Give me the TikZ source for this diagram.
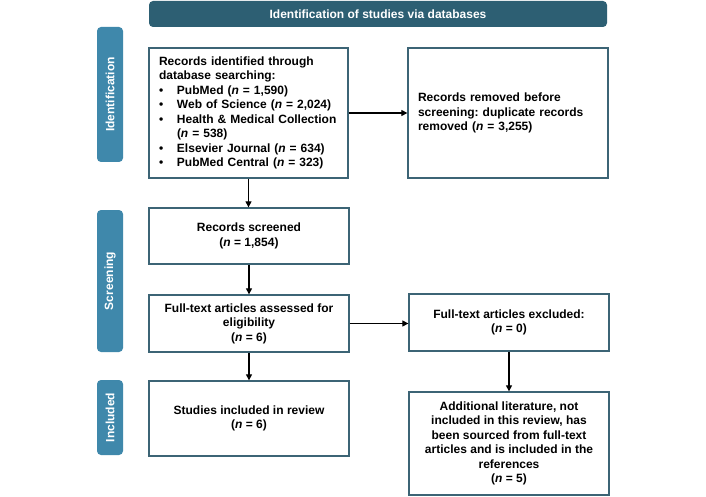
\documentclass[tikz,border=0pt]{standalone}
\usepackage{fontspec}
\setmainfont{Liberation Sans}
\usetikzlibrary{arrows.meta}
\frenchspacing
\definecolor{bannerc}{HTML}{2D5F73}
\definecolor{barc}{HTML}{3F88AB}
\definecolor{edgec}{HTML}{3C6475}
\tikzset{
  box/.style={draw=edgec, line width=1.3pt, fill=white, rectangle, inner sep=0pt,
    font=\fontsize{12}{14.5}\selectfont\bfseries, text=black},
  cbox/.style={box, align=center},
  lbox/.style={box, align=left},
  bar/.style={fill=barc, rounded corners=4pt, text=white, inner sep=0pt,
    font=\fontsize{12}{14.5}\selectfont\bfseries, rotate=90},
  banner/.style={fill=bannerc, rounded corners=4pt, text=white, inner sep=0pt,
    font=\fontsize{12}{14.5}\selectfont\bfseries},
  arr/.style={-{Triangle[length=6pt,width=6pt]}, line width=1.1pt, black}
}
\newcommand{\bul}{\makebox[18pt][l]{\textbullet}}
\begin{document}
\begin{tikzpicture}[x=1pt,y=-1pt]
\useasboundingbox[fill=white] (0,0) rectangle (706,497);

\node[banner, minimum width=458pt, minimum height=26pt] (ban) at (378,14) {Identification of studies via databases};

\node[bar, minimum width=135pt, minimum height=26pt] (bid) at (110,94.5) {Identification};
\node[bar, minimum width=142pt, minimum height=26pt] (bsc) at (110,281) {Screening};
\node[bar, minimum width=75pt, minimum height=26pt] (bin) at (110,417.5) {Included};

\node[lbox, minimum width=199pt, minimum height=130pt, text width=179pt] (b1) at (248.5,113) {%
Records identified through\\
database searching:\\
\bul PubMed (\textit{n} = 1,590)\\
\bul Web of Science (\textit{n} = 2,024)\\
\bul Health \& Medical Collection\\
\hspace*{18pt}(\textit{n} = 538)\\
\bul Elsevier Journal (\textit{n} = 634)\\
\bul PubMed Central (\textit{n} = 323)};

\node[lbox, minimum width=200pt, minimum height=130pt, text width=180pt] (b2) at (508,113) {%
Records removed before\\
screening: duplicate records\\
removed (\textit{n} = 3,255)};

\node[cbox, minimum width=200pt, minimum height=56pt] (scr) at (249,236) {Records screened\\(\textit{n} = 1,854)};

\node[cbox, minimum width=200pt, minimum height=57pt] (ass) at (249,323.5) {Full-text articles assessed for\\eligibility\\(\textit{n} = 6)};

\node[cbox, minimum width=200pt, minimum height=75pt] (inc) at (249,418.5) {Studies included in review\\(\textit{n} = 6)};

\node[cbox, minimum width=200pt, minimum height=57pt] (exc) at (509,322.5) {Full-text articles excluded:\\(\textit{n} = 0)};

\node[cbox, minimum width=200pt, minimum height=103pt] (add) at (509,443.5) {Additional literature, not\\included in this review, has\\been sourced from full-text\\articles and is included in the\\references\\(\textit{n} = 5)};

\draw[arr] (b1.south) -- (b1.south |- scr.north);
\draw[arr] (b1.east) -- (b1.east -| b2.west);
\draw[arr] (scr.south) -- (ass.north);
\draw[arr] (ass.south) -- (inc.north);
\draw[arr] (ass.east) -- (ass.east -| exc.west);
\draw[arr] (exc.south) -- (add.north);
\end{tikzpicture}
\end{document}
